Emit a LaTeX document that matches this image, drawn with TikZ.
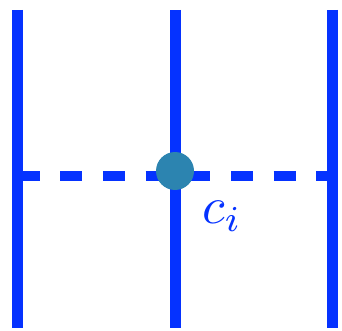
\documentclass[tikz,border=0pt]{standalone}
\usepackage{tikz}
\usetikzlibrary{positioning}

\definecolor{gridblue}{RGB}{5,50,255}
\definecolor{dotteal}{RGB}{44,132,176}

\begin{document}
\begin{tikzpicture}[
    x=1pt, y=-1pt,
    wall/.style={draw=gridblue, line width=11pt},
    cut/.style={draw=gridblue, line width=10pt, dash pattern=on 22pt off 20.7pt},
    dot/.style={circle, fill=dotteal, inner sep=0pt, minimum size=38pt},
    lbl/.style={text=gridblue, scale=5.2}
]
    \useasboundingbox (0,0) rectangle (342,331);

    % End points of the lines
    \coordinate (atop) at (17.5,10);
    \coordinate (abot) at (17.5,328);
    \coordinate (btop) at (175.5,10);
    \coordinate (bbot) at (175.5,328);
    \coordinate (ctop) at (332.5,10);
    \coordinate (cbot) at (332.5,328);
    \coordinate (cutl) at (17.5,175.5);
    \coordinate (cutr) at (332.5,175.5);

    % Dashed cut
    \draw[cut] (cutl) -- (cutr);

    % Vertical lines
    \draw[wall] (atop) -- (abot);
    \draw[wall] (btop) -- (bbot);
    \draw[wall] (ctop) -- (cbot);

    % Point and its label
    \node[dot] (ci) at (175,171) {};
    \node[lbl] (cilabel) at (222,216) {$c_i$};
\end{tikzpicture}
\end{document}
